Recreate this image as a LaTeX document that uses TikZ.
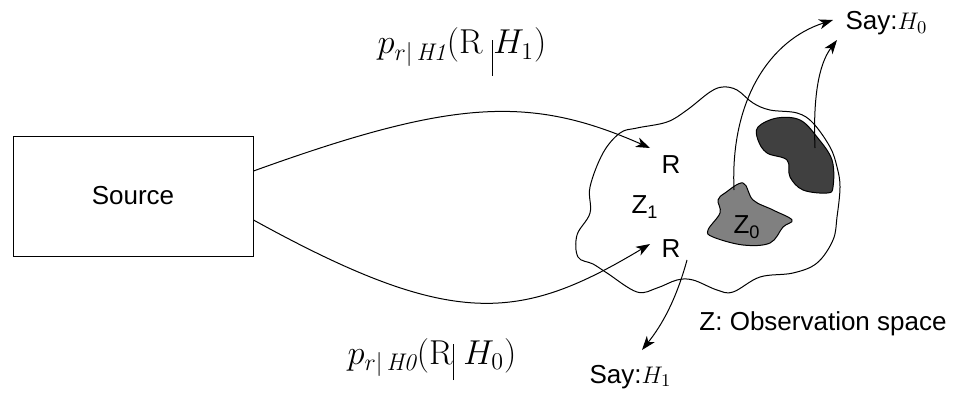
\documentclass[tikz,border=0pt]{standalone}
\definecolor{zonedark}{RGB}{64, 64, 64}
\definecolor{zonemid}{RGB}{128, 128, 128}
\usepackage{fontspec}
\setsansfont{Liberation Sans}
\usepackage{tikz}
\usetikzlibrary{arrows.meta, positioning}

\begin{document}
\begin{tikzpicture}[x=0.5pt, y=-0.5pt, line width=0.5pt,
		lab/.style={font=\sffamily\fontsize{13}{15}\selectfont, inner sep=1pt},
		mlab/.style={font=\LARGE, inner sep=0pt, anchor=base},
		arr/.style={-{Stealth[length=7pt, width=5pt, inset=2pt]}}]
	\useasboundingbox (0,0) rectangle (956,401);
	\node[draw, lab, minimum width=120pt, minimum height=60pt] (src) at (133,196) {Source};
	\draw plot[smooth cycle, tension=0.6] coordinates {(590,187) (603,153) (620,133) (637,128)
		(667,122) (687,110) (710,92) (723,87) (737,90) (753,103) (770,110) (797,113) (813,123)
		(830,147) (837,167) (840,187) (837,217) (833,240) (817,263) (793,273) (760,277)
		(733,292) (717,290) (693,280) (677,280) (657,288) (637,292) (607,273) (593,264)
		(578,257) (577,235) (590,213)};
	\draw[fill=zonedark] plot[smooth cycle, tension=0.6] coordinates {(758,127) (777,118)
		(800,120) (817,137) (832,160) (833,187) (827,193) (803,190) (790,177) (787,160)
		(767,153) (758,140)};
	\draw[fill=zonemid] plot[smooth cycle, tension=0.6] coordinates {(725,193) (743,183)
		(753,200) (773,210) (792,220) (783,227) (770,243) (743,245) (713,237) (708,230)
		(720,213) (718,200)};
	\node[lab] (r1) at (671,165) {R};
	\node[lab] (r2) at (671,249) {R};
	\node[lab] (z1) at (645,207) {Z\textsubscript{1}};
	\node[lab] (z0) at (747,227) {Z\textsubscript{0}};
	\node[lab] (obs) at (823,324) {Z: Observation space};
	\node[lab, anchor=base west] (sayzero) at (843,30) {Say:$H_0$};
	\node[lab, anchor=base west] (sayone) at (587,383) {Say:$H_1$};
	\node[mlab] (pone) at (462,54) {$p_{r|\,\mathit{H1}}(\mathrm{R}\;\rule[-11pt]{0.5pt}{18pt}H_1)$};
	\node[mlab] (pzero) at (432,364) {$p_{r|\,\mathit{H0}}(\mathrm{R}\rule[-8pt]{0.5pt}{18pt}\;H_0)$};
	\coordinate (inone) at (650,148);
	\coordinate (inzero) at (650,244);
	\coordinate (outone) at (687,260);
	\coordinate (tipone) at (642,350);
	\coordinate (outa) at (734,190);
	\coordinate (outb) at (815,148);
	\coordinate (tipa) at (833,20);
	\coordinate (tipb) at (837,40);
	\draw[arr] ([yshift=12.5pt]src.east) .. controls (453,99) and (530,95) .. (inone);
	\draw[arr] ([yshift=-12pt]src.east) .. controls (453,330) and (520,322) .. (inzero);
	\draw[arr] (outone) .. controls (676,300) and (662,325) .. (tipone);
	\draw[arr] (outa) .. controls (730,100) and (770,40) .. (tipa);
	\draw[arr] (outb) .. controls (813,100) and (818,65) .. (tipb);
\end{tikzpicture}
\end{document}
